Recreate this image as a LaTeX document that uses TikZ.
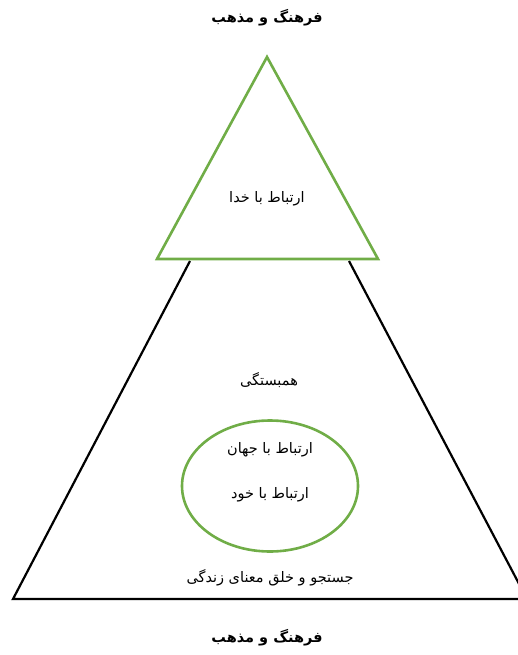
\documentclass[tikz,border=0pt]{standalone}
\usepackage{fontspec}
\TeXXeTstate=1
\newfontfamily\arabicfont[Script=Arabic]{DejaVu Sans}
\usepackage{xcolor}
\usetikzlibrary{shapes.geometric}

\definecolor{leafgreen}{RGB}{112,173,71}

\begin{document}
\begin{tikzpicture}[
    x=1pt,
    y=-1pt,
    txt/.style={
        font=\arabicfont\fontsize{14.5}{17}\selectfont,
        inner sep=1pt
    },
    heading/.style={
        font=\arabicfont\bfseries\fontsize{14.5}{17}\selectfont,
        inner sep=1pt
    },
    greenline/.style={
        draw=leafgreen,
        line width=2.6pt
    },
    blackline/.style={
        draw=black,
        line width=2.2pt
    }
]
\useasboundingbox (0,0) rectangle (518,655);
\clip (0,0) rectangle (518,655);

% outer pyramid
\coordinate (baseleft) at (13,599);
\coordinate (baseright) at (527,599);
\draw[blackline] (190,261) -- (baseleft) -- (baseright) -- (349,261);

% top triangle
\coordinate (apex) at (267,57);
\draw[greenline, line join=miter] (apex) -- (157,259) -- (378,259) -- cycle;

% ellipse
\node[draw=leafgreen, line width=2.6pt, ellipse,
      minimum width=176, minimum height=131] (self) at (270,486) {};

\node[heading] (topname) at (267,18) {\beginR فرهنگ و مذهب\endR};
\node[txt] (god) at (267,199) {\beginR ارتباط با خدا\endR};
\node[txt] (unity) at (269,380) {\beginR همبستگی\endR};
\node[txt] (world) at (270,450) {\beginR ارتباط با جهان\endR};
\node[txt] (own) at (270,495) {\beginR ارتباط با خود\endR};
\node[txt] (meaning) at (270,578) {\beginR جستجو و خلق معنای زندگی\endR};
\node[heading] (bottomname) at (267,638) {\beginR فرهنگ و مذهب\endR};

\end{tikzpicture}
\end{document}
